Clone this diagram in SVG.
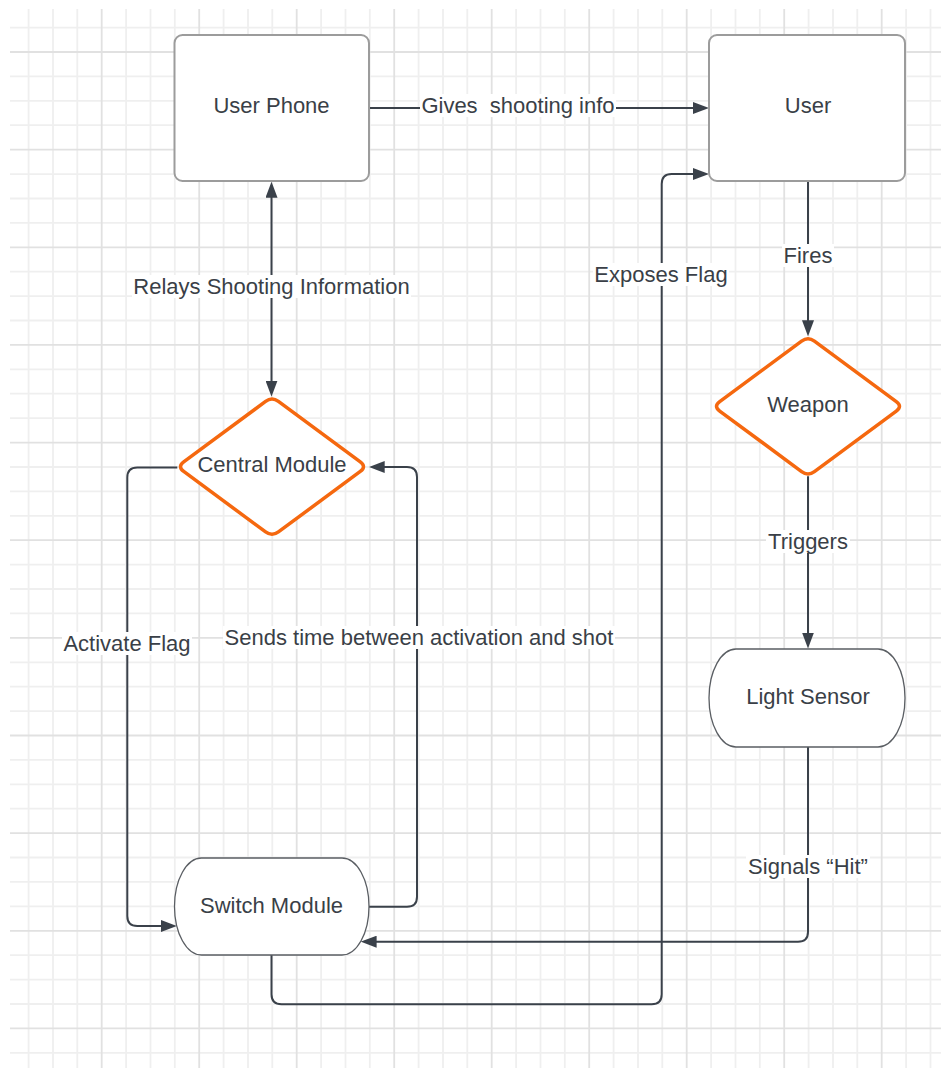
<svg xmlns="http://www.w3.org/2000/svg" width="941" height="1068" viewBox="0 0 941 1068">
<style>
.gmin{stroke:#efefef;stroke-width:1.8;fill:none}
.gmaj{stroke:#e1e1e1;stroke-width:1.8;fill:none}
.box{fill:#ffffff;stroke:#9c9c9c;stroke-width:2}
.term{fill:#ffffff;stroke:#5a5e63;stroke-width:1.3}
.dia{fill:#ffffff;stroke:#f5680f;stroke-width:3.5;stroke-linejoin:round}
.t{font-family:"Liberation Sans",Arial,sans-serif;font-size:22px;fill:#3a3f47;text-anchor:middle}
.c{fill:none;stroke:#3a414a;stroke-width:2}
.lb{fill:#ffffff}
</style>
<defs>
<marker id="ah" viewBox="0 0 16 12" markerWidth="16" markerHeight="12" markerUnits="userSpaceOnUse" refX="12" refY="6" orient="auto-start-reverse">
<path d="M0,0 L16,6 L0,12 Z" fill="#3a414a"/>
</marker>
</defs>
<rect x="0" y="0" width="941" height="1068" fill="#ffffff"/>
<g id="grid">
<path class="gmin" d="M28.6 9V1068M53 9V1068M77.3 9V1068M126.1 9V1068M150.5 9V1068M174.8 9V1068M223.6 9V1068M248 9V1068M272.3 9V1068M321.1 9V1068M345.5 9V1068M369.8 9V1068M418.6 9V1068M443 9V1068M467.3 9V1068M516.1 9V1068M540.5 9V1068M564.8 9V1068M613.6 9V1068M638 9V1068M662.3 9V1068M711.1 9V1068M735.5 9V1068M759.8 9V1068M808.6 9V1068M833 9V1068M857.3 9V1068M906.1 9V1068M930.5 9V1068"/>
<path class="gmin" d="M10 27.6H941M10 76.4H941M10 100.8H941M10 125.2H941M10 174.1H941M10 198.5H941M10 222.9H941M10 271.7H941M10 296.1H941M10 320.5H941M10 369.3H941M10 393.7H941M10 418.2H941M10 467H941M10 491.4H941M10 515.8H941M10 564.6H941M10 589H941M10 613.4H941M10 662.3H941M10 686.7H941M10 711.1H941M10 759.9H941M10 784.3H941M10 808.7H941M10 857.5H941M10 881.9H941M10 906.4H941M10 955.2H941M10 979.6H941M10 1004H941M10 1052.8H941"/>
<path class="gmaj" d="M101.7 9V1068M199.2 9V1068M296.7 9V1068M394.2 9V1068M491.7 9V1068M589.2 9V1068M686.7 9V1068M784.2 9V1068M881.7 9V1068"/>
<path class="gmaj" d="M10 52H941M10 149.6H941M10 247.3H941M10 344.9H941M10 442.6H941M10 540.2H941M10 637.8H941M10 735.5H941M10 833.1H941M10 930.8H941M10 1028.4H941"/>
</g>
<g id="connectors">
<path class="c" d="M369.5 108H705" marker-end="url(#ah)"/>
<path class="c" d="M271.5 185.7V392.7" marker-start="url(#ah)" marker-end="url(#ah)"/>
<path class="c" d="M808 181V332.3" marker-end="url(#ah)"/>
<path class="c" d="M808 476.3V644.5" marker-end="url(#ah)"/>
<path class="c" d="M808 747V931.7Q808 941.7 798 941.7H364.6" marker-end="url(#ah)"/>
<path class="c" d="M177.3 467.5H137.3Q127.3 467.5 127.3 477.5V916Q127.3 926 137.3 926H172.8" marker-end="url(#ah)"/>
<path class="c" d="M369 906.7H407Q417 906.7 417 896.7V477Q417 467 407 467H372.7" marker-end="url(#ah)"/>
<path class="c" d="M271.5 955V994.3Q271.5 1004.3 281.5 1004.3H651.7Q661.7 1004.3 661.7 994.3V184Q661.7 174 671.7 174H705" marker-end="url(#ah)"/>
<rect class="lb" x="420" y="94" width="196" height="23"/>
<text class="t" x="518" y="113" xml:space="preserve">Gives  shooting info</text>
<rect class="lb" x="132" y="275" width="279" height="23"/>
<text class="t" x="271.5" y="294">Relays Shooting Information</text>
<rect class="lb" x="782" y="244" width="52" height="23"/>
<text class="t" x="808" y="263">Fires</text>
<rect class="lb" x="766" y="530" width="84" height="23"/>
<text class="t" x="808" y="549">Triggers</text>
<rect class="lb" x="593" y="263" width="136" height="23"/>
<text class="t" x="661" y="282">Exposes Flag</text>
<rect class="lb" x="62" y="632" width="130" height="23"/>
<text class="t" x="127" y="651">Activate Flag</text>
<rect class="lb" x="223" y="626" width="392" height="23"/>
<text class="t" x="419" y="645">Sends time between activation and shot</text>
<rect class="lb" x="746" y="855" width="124" height="23"/>
<text class="t" x="808" y="874">Signals “Hit”</text>
</g>
<g id="user-phone">
<rect class="box" x="174.5" y="35" width="194.5" height="146" rx="8"/>
<text class="t" x="271.5" y="113">User Phone</text>
</g>
<g id="user">
<rect class="box" x="709" y="35" width="196" height="146" rx="8"/>
<text class="t" x="808" y="113">User</text>
</g>
<g id="central-module">
<path class="dia" d="M265.6 401.45Q272 396.7 278.4 401.45L360.3 461.95Q366.7 466.7 360.3 471.45L278.4 531.95Q272 536.7 265.6 531.95L183.7 471.45Q177.3 466.7 183.7 461.95Z"/>
<text class="t" x="272" y="472">Central Module</text>
</g>
<g id="weapon">
<path class="dia" d="M801.6 341.05Q808 336.3 814.4 341.05L896.3 401.55Q902.7 406.3 896.3 411.05L814.4 471.55Q808 476.3 801.6 471.55L719.7 411.05Q713.3 406.3 719.7 401.55Z"/>
<text class="t" x="808" y="412">Weapon</text>
</g>
<g id="light-sensor">
<rect class="term" x="709" y="649" width="196" height="98" rx="27" ry="49"/>
<text class="t" x="808" y="704">Light Sensor</text>
</g>
<g id="switch-module">
<rect class="term" x="174.5" y="858" width="194.5" height="97" rx="27" ry="48.5"/>
<text class="t" x="271.5" y="913">Switch Module</text>
</g>
</svg>
